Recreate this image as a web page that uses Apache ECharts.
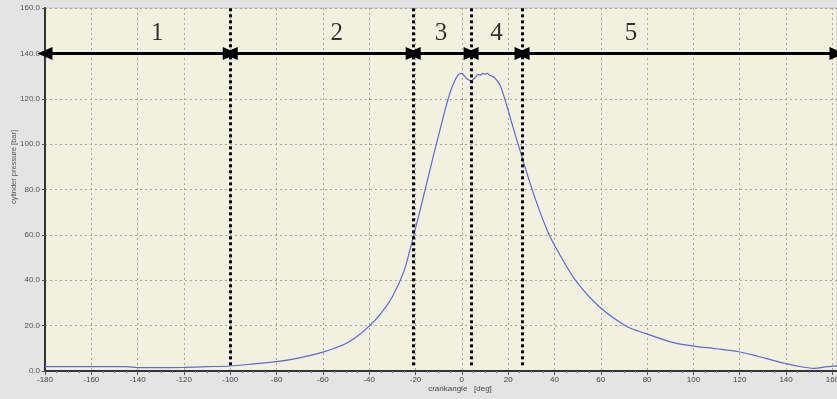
<!DOCTYPE html>
<html>
<head>
<meta charset="utf-8">
<script src="https://cdn.jsdelivr.net/npm/echarts@6/dist/echarts.min.js"></script>
<style>
html, body { margin: 0; padding: 0; background: #e4e4e4; }
#main { width: 837px; height: 399px; }
</style>
</head>
<body>
<div id="main"></div>
<script>
// crank angle [deg] and cylinder pressure [bar]
var angles = [-180, -160, -145, -140, -130, -120, -110, -100, -90, -80, -70, -60, -55, -50, -45, -40, -35, -30, -25, -21, -18, -15, -12, -9, -7, -5, -3, -1.5, 0, 0.8, 1.6, 2.5, 3.9, 5, 6, 7, 8, 9, 10, 11, 12, 13, 14.4, 16.5, 18.7, 21.6, 25.5, 30.9, 37.4, 43, 49, 59.4, 71.3, 79.5, 91.4, 100, 110, 119.5, 127.4, 134, 139.4, 144.7, 151.9, 157.7, 162];
var pressure = [1.9, 1.9, 1.9, 1.5, 1.5, 1.6, 1.9, 2.2, 3.1, 4.1, 5.8, 8.3, 10, 12.1, 15.4, 19.8, 25.3, 32.7, 44, 59, 71, 83.5, 96, 108, 116, 123, 128, 130.6, 131.2, 130.4, 129.4, 128.6, 127.9, 128.6, 129.5, 130.8, 130.4, 131.2, 130.8, 131.2, 130.4, 130, 129, 126, 119.4, 109.2, 95.9, 78.3, 60.7, 50, 40.1, 28.3, 19.6, 16.5, 12.5, 11.0, 9.8, 8.5, 6.6, 4.8, 3.4, 2.2, 1.2, 1.9, 2.3];
var phaseBounds = [-180, -100, -21, 4, 26, 162];
var phaseNames = ['1', '2', '3', '4', '5'];
var phaseLabelX = [-131.5, -54, -9, 15, 73];
var arrowLevel = 140;
var labelLevel = 149;
var xTicks = { min: -180, max: 162, step: 20 };
var yTicks = { min: 0, max: 160, step: 20 };

var curve = [];
for (var i = 0; i < angles.length; i++) {
    curve.push([angles[i], pressure[i]]);
}

// double arrows between the phase boundaries
var arrows = [];
for (var i = 0; i < phaseNames.length; i++) {
    arrows.push([
        { coord: [phaseBounds[i], arrowLevel] },
        { coord: [phaseBounds[i + 1], arrowLevel] }
    ]);
}
// dotted separators
var separators = [];
for (var i = 1; i < phaseBounds.length - 1; i++) {
    separators.push([
        { coord: [phaseBounds[i], 2.5] },
        { coord: [phaseBounds[i], 160] }
    ]);
}
var labels = [];
for (var i = 0; i < phaseNames.length; i++) {
    labels.push({ value: [phaseLabelX[i], labelLevel], name: phaseNames[i] });
}

var myChart = echarts.init(document.getElementById('main'));
var option = {
    backgroundColor: '#e4e4e4',
    animation: false,
    grid: {
        left: 45, top: 8, right: 0, bottom: 28,
        outerBoundsMode: 'none',
        containLabel: false,
        show: true,
        backgroundColor: '#f1f1df',
        borderColor: '#c4c4c4',
        borderWidth: 1
    },
    xAxis: {
        type: 'value',
        min: xTicks.min,
        max: xTicks.max,
        interval: xTicks.step,
        name: 'crankangle   [deg]',
        nameLocation: 'middle',
        nameGap: 14,
        nameMoveOverlap: false,
        nameTextStyle: { fontFamily: 'Liberation Sans', fontSize: 8, color: '#444', padding: [0, 0, 0, 38] },
        axisLine: { onZero: false, lineStyle: { color: '#333', width: 2 } },
        axisTick: { show: true, length: 4, lineStyle: { color: '#555' } },
        minorTick: { show: true, splitNumber: 4, length: 2, lineStyle: { color: '#777' } },
        axisLabel: {
            fontFamily: 'Liberation Sans', fontSize: 8, color: '#444', margin: 5,
            showMaxLabel: false
        },
        splitLine: { show: true, lineStyle: { color: '#a8a8a0', type: [2, 3], width: 1 } }
    },
    yAxis: {
        type: 'value',
        min: yTicks.min,
        max: yTicks.max,
        interval: yTicks.step,
        name: 'cylinder pressure [bar]',
        nameLocation: 'middle',
        nameGap: 27,
        nameMoveOverlap: false,
        nameTextStyle: { fontFamily: 'Liberation Sans', fontSize: 7.5, color: '#555', padding: [0, 0, 0, 45] },
        axisLine: { show: true, onZero: false, lineStyle: { color: '#333', width: 2 } },
        axisTick: { show: true, length: 3, lineStyle: { color: '#555' } },
        axisLabel: {
            fontFamily: 'Liberation Sans', fontSize: 8, color: '#555', margin: 5,
            formatter: function (v) { return v.toFixed(1); }
        },
        splitLine: { show: true, lineStyle: { color: '#a8a8a0', type: [2, 3], width: 1 } }
    },
    series: [
        {
            name: 'pressure',
            type: 'line',
            data: curve,
            smooth: 0.3,
            showSymbol: false,
            lineStyle: { color: '#6464dc', width: 1.2 },
            markLine: {
                silent: true,
                symbol: 'none',
                label: { show: false },
                lineStyle: { color: '#000', width: 3, type: [3, 3] },
                data: separators
            },
            z: 3
        },
        {
            name: 'phases',
            type: 'line',
            data: [],
            markLine: {
                silent: true,
                symbol: ['triangle', 'triangle'],
                symbolSize: [13, 15],
                label: { show: false },
                lineStyle: { color: '#000', width: 3, type: 'solid' },
                data: arrows
            },
            z: 4
        },
        {
            name: 'labels',
            type: 'scatter',
            data: labels,
            symbolSize: 0,
            label: {
                show: true,
                position: 'inside',
                formatter: '{b}',
                fontFamily: 'Liberation Serif',
                fontSize: 25,
                color: '#000'
            },
            z: 5
        }
    ]
};
myChart.setOption(option, true);
</script>
</body>
</html>
